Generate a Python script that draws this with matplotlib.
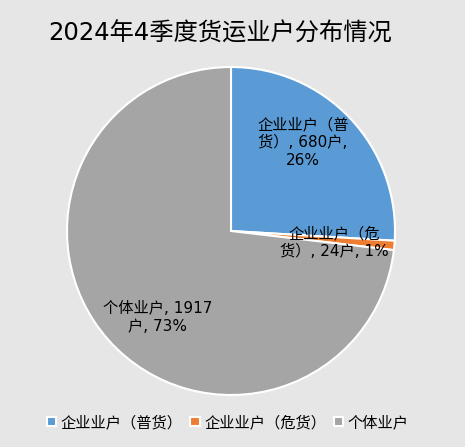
import numpy as np
import matplotlib
matplotlib.use("Agg")
from matplotlib import pyplot as plt

plt.rcParams['font.family'] = ['DejaVu Sans', 'Noto Sans CJK SC']

categories = ['企业业户（普货）', '企业业户（危货）', '个体业户']
counts = [680, 24, 1917]
label_texts = ['企业业户（普\n货）, 680户,\n26%',
               '企业业户（危\n货）, 24户, 1%',
               '个体业户, 1917\n户, 73%']
colors = ['#5b9bd5', '#ed7d31', '#a5a5a5']
# where each label sits (data coords, pie radius = 1)
label_pos = [(0.44, 0.54), (0.63, -0.07), (-0.45, -0.53)]

bg = '#e6e6e6'
fig = plt.figure(figsize=(4.65, 4.47), dpi=100)
fig.patch.set_facecolor(bg)

R = 164
cx, cy = 231, 231
ax = fig.add_axes([(cx - R) / 465, (447 - cy - R) / 447, 2 * R / 465, 2 * R / 447])
ax.set_facecolor(bg)

wedges, _ = ax.pie(counts, colors=colors, startangle=90, counterclock=False,
                   wedgeprops=dict(edgecolor='white', linewidth=1.5, clip_on=False))
ax.set_xlim(-1.0, 1.0)
ax.set_ylim(-1.0, 1.0)
ax.set_aspect('equal')
ax.axis('off')

for txt, (x, y) in zip(label_texts, label_pos):
    ax.text(x, y, txt, ha='center', va='center', fontsize=11,
            color='black', linespacing=1.25)

fig.text(0.473, 0.925, '2024年4季度货运业户分布情况', ha='center', va='center',
         fontsize=17.5, color='black')

leg = fig.legend(wedges, categories, loc='center', bbox_to_anchor=(0.49, 0.055), ncol=3,
                 frameon=False, fontsize=11, handlelength=0.6, handleheight=0.6,
                 handletextpad=0.3, columnspacing=0.5)

fig.savefig('out.png', dpi=100, facecolor=bg)
